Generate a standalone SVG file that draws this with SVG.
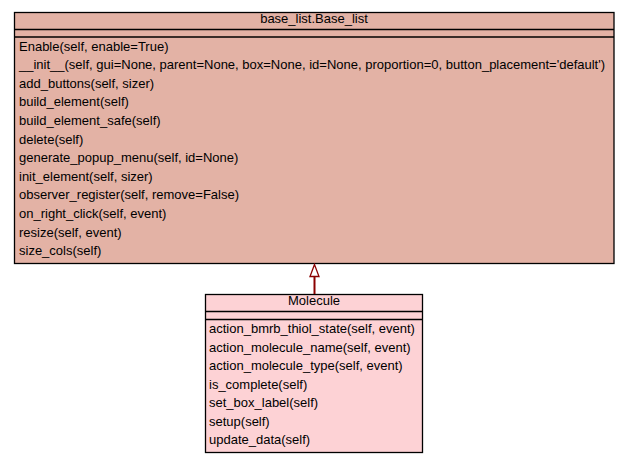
<svg xmlns="http://www.w3.org/2000/svg" width="629" height="464" viewBox="0 0 629 464">
<style>
.box{stroke:#000;stroke-width:1.3}
.sep{stroke:#000;stroke-width:1.3}
text{font-family:"Liberation Sans",Arial,sans-serif;font-size:13px;fill:#000}
.c{text-anchor:middle}
</style>
<rect x="0" y="0" width="629" height="464" fill="#fff"/>
<g id="base_list">
<rect class="box" x="14.5" y="12.5" width="599.5" height="251" fill="#e3b2a5"/>
<line class="sep" x1="14.5" y1="29.5" x2="614" y2="29.5"/>
<line class="sep" x1="14.5" y1="37" x2="614" y2="37"/>
<text class="c" x="314" y="23">base_list.Base_list</text>
<text x="19" y="50.5">Enable(self, enable=True)</text>
<text x="19" y="69.1">__init__(self, gui=None, parent=None, box=None, id=None, proportion=0, button_placement='default')</text>
<text x="19" y="87.7">add_buttons(self, sizer)</text>
<text x="19" y="106.3">build_element(self)</text>
<text x="19" y="124.9">build_element_safe(self)</text>
<text x="19" y="143.5">delete(self)</text>
<text x="19" y="162.1">generate_popup_menu(self, id=None)</text>
<text x="19" y="180.7">init_element(self, sizer)</text>
<text x="19" y="199.3">observer_register(self, remove=False)</text>
<text x="19" y="217.9">on_right_click(self, event)</text>
<text x="19" y="236.5">resize(self, event)</text>
<text x="19" y="255.1">size_cols(self)</text>
</g>
<g id="molecule">
<rect class="box" x="205.5" y="294.5" width="217" height="158" fill="#fdd2d5"/>
<line class="sep" x1="205.5" y1="311.5" x2="422.5" y2="311.5"/>
<line class="sep" x1="205.5" y1="319.5" x2="422.5" y2="319.5"/>
<text class="c" x="314" y="305">Molecule</text>
<text x="209" y="333">action_bmrb_thiol_state(self, event)</text>
<text x="209" y="351.5">action_molecule_name(self, event)</text>
<text x="209" y="370">action_molecule_type(self, event)</text>
<text x="209" y="388.5">is_complete(self)</text>
<text x="209" y="407">set_box_label(self)</text>
<text x="209" y="425.5">setup(self)</text>
<text x="209" y="444">update_data(self)</text>
</g>
<g id="connectors">
<line x1="314.5" y1="294" x2="314.5" y2="276.5" stroke="#8b0000" stroke-width="2"/>
<polygon points="314.5,264.5 310,276.5 319,276.5" fill="#fff" stroke="#8b0000" stroke-width="1.3"/>
</g>
</svg>
